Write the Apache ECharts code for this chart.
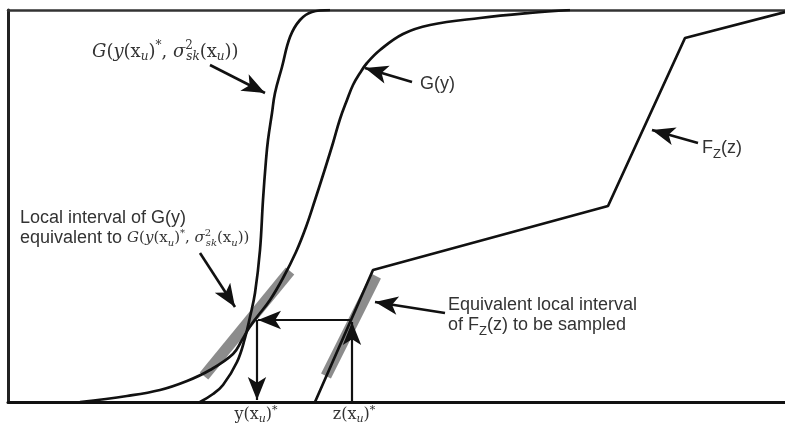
<!DOCTYPE html>
<html><head><meta charset="utf-8">
<script src="https://cdn.jsdelivr.net/npm/echarts@6/dist/echarts.min.js"></script>
<style>html,body{margin:0;padding:0;background:#fff}#c{width:785px;height:425px}</style>
</head><body><div id="c"></div>
<script>
// Curves (x, height above the baseline)
const curveGsk = [[200,0],[213,8],[223,17],[237,40],[245,64],[250,85],[255,109],[260,152],[263,202],[266,242],[268,262],[272,289],[275,309],[282,335],[290,365],[300,382],[312,390],[330,392]];
const curveG = [[80,0],[127,6],[160,12],[187,21],[210,32],[233,48],[242,62],[249,74],[257,85],[270,102],[283,124],[296,150],[306,175],[315,202],[324,230],[333,259],[340,283],[347,302],[353,317],[360,329],[367,339],[380,352],[403,368],[430,377],[480,384],[530,389],[570,392]];
const curveFz = [[315,0],[373,132],[608,196],[685,364],[785,390]];
// Grey local intervals
const bandG = [[204,26],[290,131]];
const bandFz = [[326,26],[376,126]];
// Arrows: [from, tip]
const annotationArrows = [
  [[210,337],[265,309]],
  [[412,320],[365,334]],
  [[698,259],[652,272]],
  [[200,149],[235,95]],
  [[445,89],[375,100]]
];
const samplingArrows = [
  [[352,0],[352,80]],
  [[352,82],[258,82]],
  [[257,82],[257,2]]
];
// Bottom tick labels
const tickValues = [256, 354];
const tickLabels = ['{n|y(x}{sb|u}{n|)}{sp|*}', '{n|z(x}{sb|u}{n|)}{sp|*}'];

const ARROW = 'path://M-20,0L20,0M0,20L8,40L0,35L-8,40Z';
const SERIF = '"DejaVu Serif"';
const SANS = '"Liberation Sans"';
const TXT = '#333';

function mathStyles(sfx, S, s, L, up) {
  const r = {};
  r['n' + sfx] = { font: S + 'px ' + SERIF, lineHeight: L, fill: TXT };
  r['i' + sfx] = { font: 'italic ' + S + 'px ' + SERIF, lineHeight: L, fill: TXT };
  r['sb' + sfx] = { font: 'italic ' + s + 'px ' + SERIF, height: s, padding: [10, 0, 0, 0], fill: TXT };
  r['sp' + sfx] = { font: s + 'px ' + SERIF, height: s, padding: [0, 0, up, 0], fill: TXT };
  r['spz' + sfx] = { font: s + 'px ' + SERIF, height: s, width: 1, padding: [0, 0, up, 0], fill: TXT };
  return r;
}
function formula(sfx) {
  const t = (k, v) => '{' + k + sfx + '|' + v + '}';
  return t('i','G') + t('n','(') + t('i','y') + t('n','(x') + t('sb','u') + t('n',')') + t('sp','*') +
    t('n',', ') + t('i','σ') + t('spz','2') + t('sb','sk') + t('n','(x') + t('sb','u') + t('n','))');
}

const sansRich = {
  s: { font: '18px ' + SANS, lineHeight: 22, fill: TXT },
  z: { font: '13px ' + SANS, height: 13, padding: [12, 0, 0, 0], fill: TXT }
};

function txt(x, y, text, rich) {
  return { type: 'text', x: x, y: y, silent: true,
    style: { text: text, rich: rich, align: 'left', verticalAlign: 'middle', font: '18px ' + SANS, fill: TXT } };
}

const chart = echarts.init(document.getElementById('c'), null, { renderer: 'canvas' });
const lineCurve = (data, smooth) => ({ type: 'line', data: data, smooth: smooth, symbol: 'none', silent: true,
  lineStyle: { color: '#111', width: 2.7 }, z: 3 });
const band = (data) => ({ type: 'line', data: data, symbol: 'none', silent: true,
  lineStyle: { color: '#8c8c8c', width: 11, cap: 'butt' }, z: 1 });
const arrows = (data, w) => ({ type: 'lines', coordinateSystem: 'cartesian2d', silent: true,
  symbol: ['none', ARROW], symbolSize: 46,
  lineStyle: { color: '#111', width: w, opacity: 1, curveness: 0 },
  data: data.map(c => ({ coords: c })), z: 4 });

chart.setOption({
  animation: false,
  backgroundColor: '#fff',
  grid: { left: 8, right: 0, top: 10, bottom: 23, containLabel: false },
  xAxis: [{
    type: 'value', min: 8, max: 785, position: 'bottom',
    axisLine: { show: true, onZero: false, lineStyle: { color: '#111', width: 3 } },
    axisTick: { show: false }, splitLine: { show: false },
    axisLabel: {
      customValues: tickValues, margin: 2, hideOverlap: false,
      formatter: v => tickLabels[tickValues.indexOf(v)],
      rich: {
        n: { fontFamily: 'DejaVu Serif', fontSize: 16, color: TXT, lineHeight: 22 },
        sb: { fontFamily: 'DejaVu Serif', fontStyle: 'italic', fontSize: 11, height: 11, color: TXT, padding: [9, 0, 0, 0] },
        sp: { fontFamily: 'DejaVu Serif', fontSize: 11, height: 11, color: TXT, padding: [0, 0, 10, 0] }
      }
    }
  }, {
    type: 'value', min: 8, max: 785, position: 'top',
    axisLine: { show: true, onZero: false, lineStyle: { color: '#333', width: 2.5 } },
    axisTick: { show: false }, splitLine: { show: false }, axisLabel: { show: false }
  }],
  yAxis: {
    type: 'value', min: 0, max: 392,
    axisLine: { show: true, onZero: false, lineStyle: { color: '#222', width: 3 } },
    axisTick: { show: false }, splitLine: { show: false }, axisLabel: { show: false }
  },
  series: [
    band(bandG), band(bandFz),
    lineCurve(curveGsk, 0.4), lineCurve(curveG, 0.4), lineCurve(curveFz, false),
    arrows(annotationArrows, 2.6), arrows(samplingArrows, 2.2)
  ],
  graphic: [
    txt(92, 52, formula('A'), mathStyles('A', 18, 12, 24, 12)),
    txt(420, 84, '{s|G(y)}', sansRich),
    txt(702, 148, '{s|F}{z|Z}{s|(z)}', sansRich),
    txt(20, 218, '{s|Local interval of G(y)}', sansRich),
    txt(20, 238, '{s|equivalent to }' + formula('B'), Object.assign({}, sansRich, mathStyles('B', 15, 10, 22, 9))),
    txt(448, 305, '{s|Equivalent local interval}', sansRich),
    txt(448, 325, '{s|of F}{z|Z}{s|(z) to be sampled}', sansRich)
  ]
});
</script></body></html>
